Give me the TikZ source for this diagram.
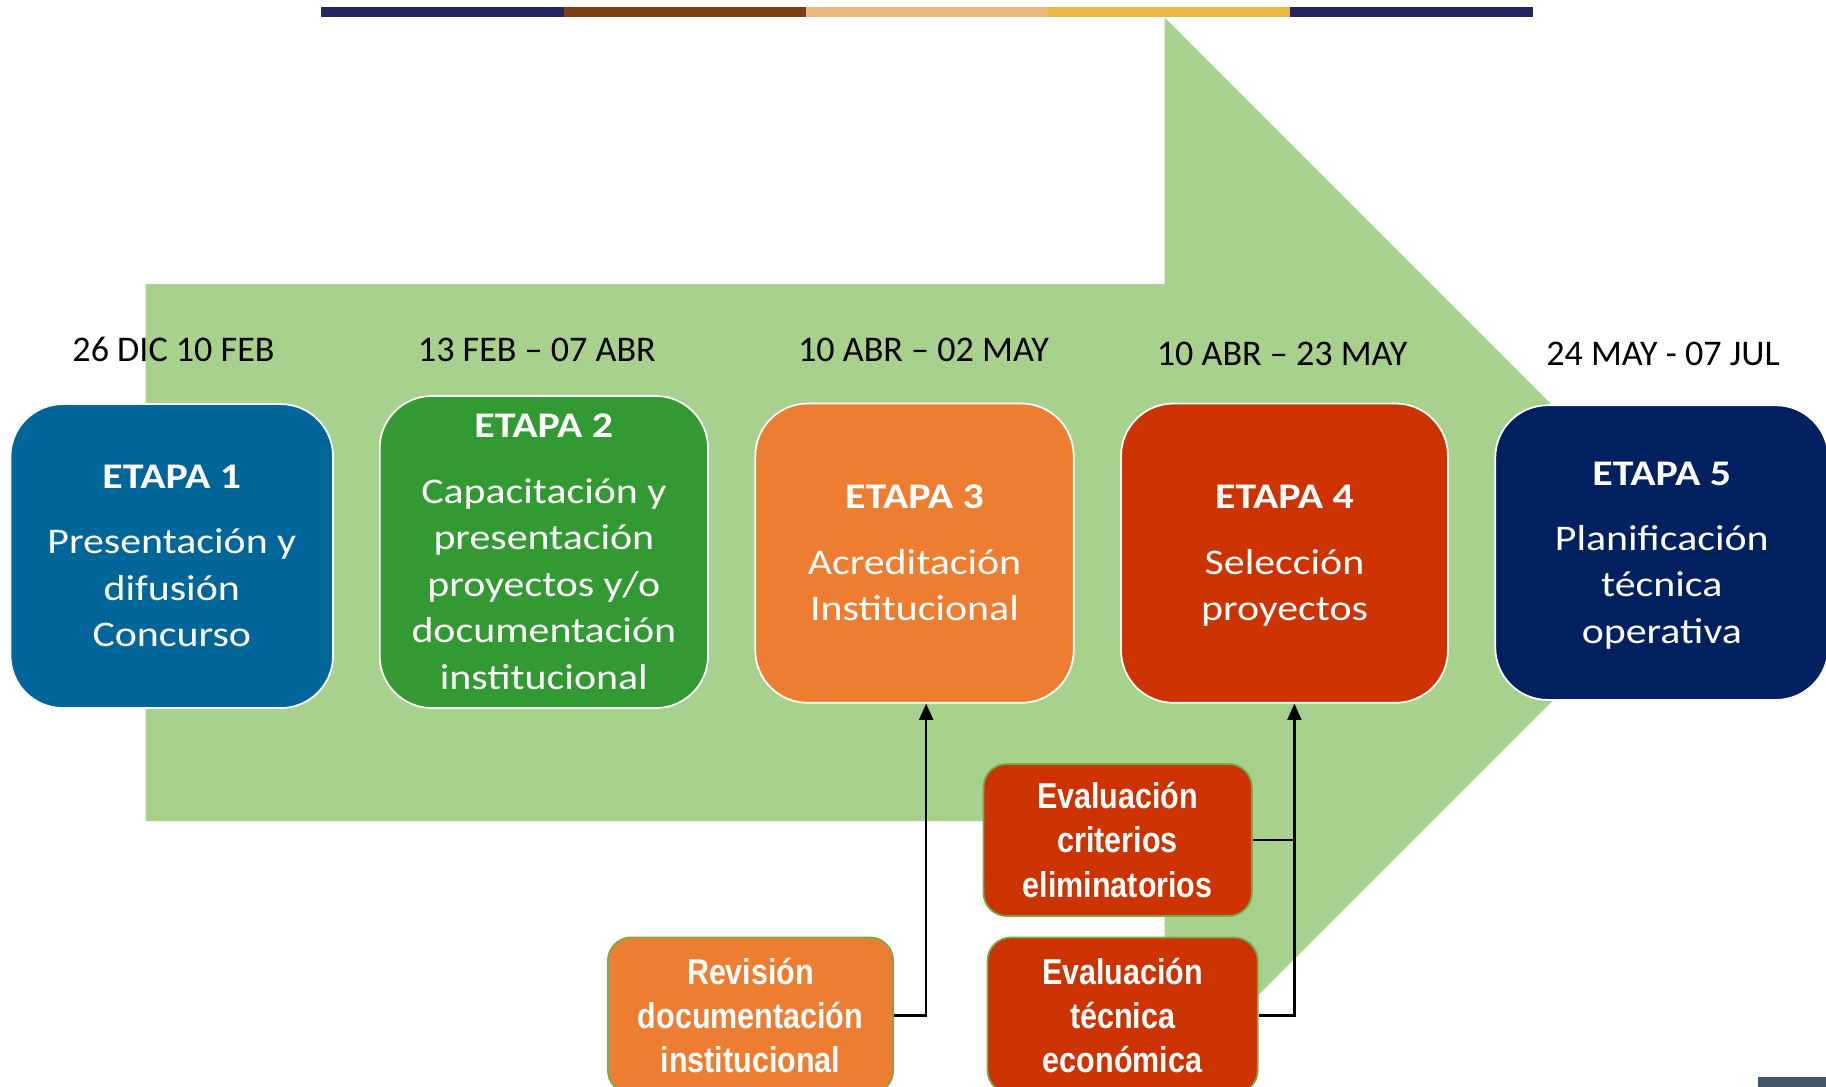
\documentclass[tikz,border=0pt]{standalone}
\usepackage{fontspec}
\setmainfont{Carlito}
\newfontfamily\boxfont[FakeStretch=1.16]{Carlito}
\newfontfamily\narrowfont[FakeStretch=0.85]{Liberation Sans}
\usetikzlibrary{arrows.meta,positioning,calc}
\definecolor{arrowgreen}{HTML}{A9D18E}
\definecolor{edgegreen}{HTML}{70AD47}
\definecolor{etapablue}{HTML}{006699}
\definecolor{etapagreen}{HTML}{339933}
\definecolor{etapaorange}{HTML}{ED7D31}
\definecolor{etapared}{HTML}{CC3300}
\definecolor{etapanavy}{HTML}{002060}
\definecolor{barnavy}{HTML}{262560}
\definecolor{barbrown}{HTML}{7F3F14}
\definecolor{bartan}{HTML}{E8B87C}
\definecolor{bargold}{HTML}{E8B840}
\definecolor{cornergray}{HTML}{44546A}

\begin{document}
\begin{tikzpicture}[x=0.5pt, y=-0.5pt,
    etapa/.style={rounded corners=22.5pt, draw=white, line width=0.75pt, text=white,
        align=center, inner sep=0pt, font=\boxfont\fontsize{15.5}{20}\selectfont},
    tarea/.style={rounded corners=10pt, draw=edgegreen, line width=0.75pt, text=white,
        align=center, inner sep=0pt, font=\narrowfont\bfseries\fontsize{15.4}{19}\selectfont},
    fecha/.style={anchor=base, inner sep=0pt, font=\fontsize{15.5}{20}\selectfont},
    link/.style={line width=1pt},
    conn/.style={link, -{Triangle[length=7pt,width=6pt]}}]
        \useasboundingbox (0,0) rectangle (1568,933);
        \clip (0,0) rectangle (1568,933);
        % Big arrow
        \fill [arrowgreen] (125,244) -- (1000,244) -- (1000,15) -- (1460,475)
            -- (1000,935) -- (1000,705) -- (125,705) -- cycle;
        % Top bar
        \foreach \c [count=\i] in {barnavy,barbrown,bartan,bargold,barnavy}
            \fill [\c] ({276+208*(\i-1)},6) rectangle ++(208,9);
        \fill [cornergray] (1510,925) rectangle (1568,933);

        % Dates
        \node [fecha] (fecha1) at (149,310.5) {26 DIC 10 FEB};
        \node [fecha] (fecha2) at (461,310.5) {13 FEB – 07 ABR};
        \node [fecha] (fecha3) at (793,310.5) {10 ABR – 02 MAY};
        \node [fecha] (fecha4) at (1101,314) {10 ABR – 23 MAY};
        \node [fecha] (fecha5) at (1428,314) {24 MAY - 07 JUL};

        % Stages
        \node [etapa, fill=etapablue, minimum width=138.5pt, minimum height=130.5pt]
            (etapa1) at (147.5,477.5) {\textbf{ETAPA 1}\\[8pt]Presentación y\\difusión\\Concurso};
        \node [etapa, fill=etapagreen, minimum width=141pt, minimum height=134pt]
            (etapa2) at (467,474) {\textbf{ETAPA 2}\\[8pt]Capacitación y\\presentación\\proyectos y/o\\documentación\\institucional};
        \node [etapa, fill=etapaorange, minimum width=136.7pt, minimum height=128.5pt]
            (etapa3) at (785.3,475) {\textbf{ETAPA 3}\\[8pt]Acreditación\\Institucional};
        \node [etapa, fill=etapared, minimum width=140.35pt, minimum height=128.5pt]
            (etapa4) at (1103,475) {\textbf{ETAPA 4}\\[8pt]Selección\\\smash{proyectos}};
        \node [etapa, fill=etapanavy, minimum width=143pt, minimum height=126.5pt]
            (etapa5) at (1427,474.5) {\textbf{ETAPA 5}\\[8pt]Planificación\\técnica\\\smash{operativa}};

        % Tasks
        \node [tarea, fill=etapared, minimum width=115.25pt, minimum height=65.3pt]
            (evalcrit) at (959.75,721.3) {Evaluación\\criterios\\eliminatorios};
        \node [tarea, fill=etapaorange, minimum width=122.5pt, minimum height=67pt]
            (revision) at (644.5,872) {Revisión\\documentación\\institucional};
        \node [tarea, fill=etapared, minimum width=116pt, minimum height=67pt]
            (evaltec) at (964,872) {Evaluación\\técnica\\económica};

        % Connectors
        \coordinate (in3) at ([xshift=5pt]etapa3.south);
        \coordinate (in4) at ([xshift=4.25pt]etapa4.south);
        \draw [conn] (revision.east) -| (in3);
        \draw [conn] (evaltec.east) -| (in4);
        \draw [link] (evalcrit.east) -- (evalcrit.east -| in4);
\end{tikzpicture}
\end{document}
